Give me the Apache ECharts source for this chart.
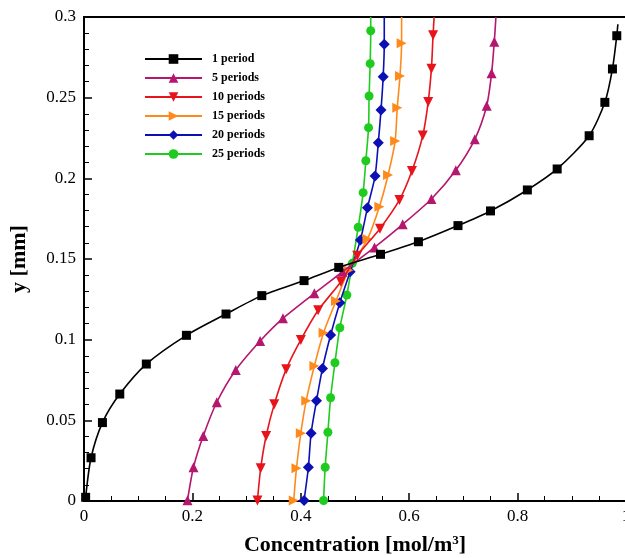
<!DOCTYPE html>
<html><head><meta charset="utf-8">
<script src="https://cdn.jsdelivr.net/npm/echarts@6/dist/echarts.min.js"></script>
<style>html,body{margin:0;padding:0;background:#fff}#c{width:625px;height:558px}</style>
</head><body><div id="c"></div>
<script>
const seriesNames = ['1 period','5 periods','10 periods','15 periods','20 periods','25 periods'];
// concentration (x) and y [mm] at each marker; last entry = curve end without marker
const c1 = [0.003,0.013,0.034,0.066,0.115,0.189,0.262,0.328,0.406,0.470,0.547,0.617,0.690,0.750,0.818,0.873,0.932,0.961,0.975,0.983,0.985];
const y1 = [0.0023,0.0268,0.0486,0.0663,0.0849,0.1027,0.1159,0.1273,0.1366,0.1448,0.1529,0.1607,0.1707,0.1798,0.1928,0.2058,0.2264,0.2471,0.2678,0.2884,0.2955];
const c5 = [0.191,0.202,0.220,0.245,0.280,0.325,0.367,0.425,0.477,0.536,0.588,0.641,0.686,0.721,0.743,0.752,0.757,0.760];
const y5 = [0.0005,0.0209,0.0403,0.0612,0.0812,0.0992,0.1132,0.1287,0.1421,0.1572,0.1715,0.1872,0.2050,0.2242,0.2450,0.2651,0.2847,0.3];
const c10 = [0.320,0.326,0.336,0.351,0.373,0.400,0.432,0.474,0.504,0.546,0.582,0.605,0.625,0.635,0.641,0.644,0.646];
const y10 = [0.0003,0.0203,0.0403,0.0599,0.0816,0.0998,0.1182,0.1359,0.1520,0.1688,0.1866,0.2045,0.2265,0.2473,0.2680,0.2887,0.3];
const c15 = [0.387,0.392,0.400,0.410,0.425,0.442,0.465,0.488,0.523,0.545,0.561,0.574,0.578,0.583,0.586,0.586];
const y15 = [0.0003,0.0203,0.0420,0.0622,0.0837,0.1043,0.1240,0.1430,0.1624,0.1824,0.2021,0.2231,0.2438,0.2634,0.2837,0.3];
const c20 = [0.406,0.414,0.419,0.429,0.440,0.455,0.472,0.491,0.510,0.523,0.537,0.543,0.548,0.552,0.554,0.554];
const y20 = [0.0003,0.0209,0.0420,0.0622,0.0822,0.1029,0.1229,0.1421,0.1618,0.1818,0.2014,0.2221,0.2424,0.2630,0.2831,0.3];
const c25 = [0.442,0.445,0.450,0.455,0.463,0.472,0.485,0.495,0.506,0.515,0.520,0.525,0.526,0.528,0.529,0.529];
const y25 = [0.0003,0.0209,0.0426,0.0640,0.0857,0.1074,0.1277,0.1473,0.1697,0.1911,0.2109,0.2314,0.2510,0.2711,0.2915,0.3];
const xTicks = [0,0.2,0.4,0.6,0.8,1];
const yTicks = [0,0.05,0.1,0.15,0.2,0.25,0.3];

const colors = ['#000000','#b5166e','#e8141c','#ff8a1c','#0c10b4','#1ecb1e'];
const symbols = ['rect','triangle','triangle','triangle','diamond','circle'];
const rotates = [0,0,180,-90,0,0];
const sizes = [9,10,10,10,11,9];
const xs = [c1,c5,c10,c15,c20,c25], ys = [y1,y5,y10,y15,y20,y25];
const F = 'Liberation Serif';

function build(i){
  const n = xs[i].length;
  return xs[i].map((x,k)=> k===n-1 ? {value:[x,ys[i][k]], symbol:'none'} : [x,ys[i][k]]);
}
const series = seriesNames.map((nm,i)=>({
  name: nm, type:'line', data: build(i), smooth:0.25,
  symbol: symbols[i], symbolRotate: rotates[i], symbolSize: sizes[i],
  showAllSymbol: true, clip: false,
  lineStyle:{color:colors[i], width:1.6},
  itemStyle:{color:colors[i]},
  emphasis:{disabled:true}, z: 10-i
}));

const chart = echarts.init(document.getElementById('c'), null, {renderer:'canvas'});
chart.setOption({
  animation:false,
  backgroundColor:'#fff',
  grid:{left:84, top:17, width:542, height:484, containLabel:false, outerBoundsMode:'none',
    show:true, borderColor:'#000', borderWidth:2, backgroundColor:'transparent'},
  legend:{
    orient:'vertical', left:139, top:48, padding:5, itemWidth:57, itemHeight:12, itemGap:7,
    data: seriesNames,
    textStyle:{fontFamily:F, fontWeight:'bold', fontSize:12, color:'#000', lineHeight:12, padding:[0,0,0,5]}
  },
  xAxis:{
    type:'value', min:xTicks[0], max:xTicks[xTicks.length-1], interval:0.2,
    name:'Concentration [mol/m{s|3}]', nameLocation:'middle', nameGap:33,
    nameTextStyle:{fontFamily:F, fontWeight:'bold', fontSize:22, color:'#000',
      rich:{s:{fontFamily:F, fontWeight:'bold', fontSize:13, color:'#000', verticalAlign:'top', padding:[0,0,10,0]}}},
    axisLine:{show:true, lineStyle:{color:'#000', width:2}},
    axisTick:{show:true, inside:true, length:8, lineStyle:{color:'#000', width:1.5}},
    minorTick:{show:true, splitNumber:4, length:5, lineStyle:{color:'#000', width:1}},
    axisLabel:{fontFamily:F, fontSize:17, color:'#000', margin:7},
    splitLine:{show:false}
  },
  yAxis:{
    type:'value', min:yTicks[0], max:yTicks[yTicks.length-1], interval:0.05,
    name:'y [mm]', nameLocation:'middle', nameGap:54, nameRotate:90,
    nameTextStyle:{fontFamily:F, fontWeight:'bold', fontSize:22, color:'#000'},
    axisLine:{show:true, lineStyle:{color:'#000', width:2}},
    axisTick:{show:true, inside:true, length:8, lineStyle:{color:'#000', width:1.5}},
    minorTick:{show:true, splitNumber:5, length:5, lineStyle:{color:'#000', width:1}},
    axisLabel:{fontFamily:F, fontSize:17, color:'#000', margin:8},
    splitLine:{show:false}
  },
  series: series
});
</script></body></html>
